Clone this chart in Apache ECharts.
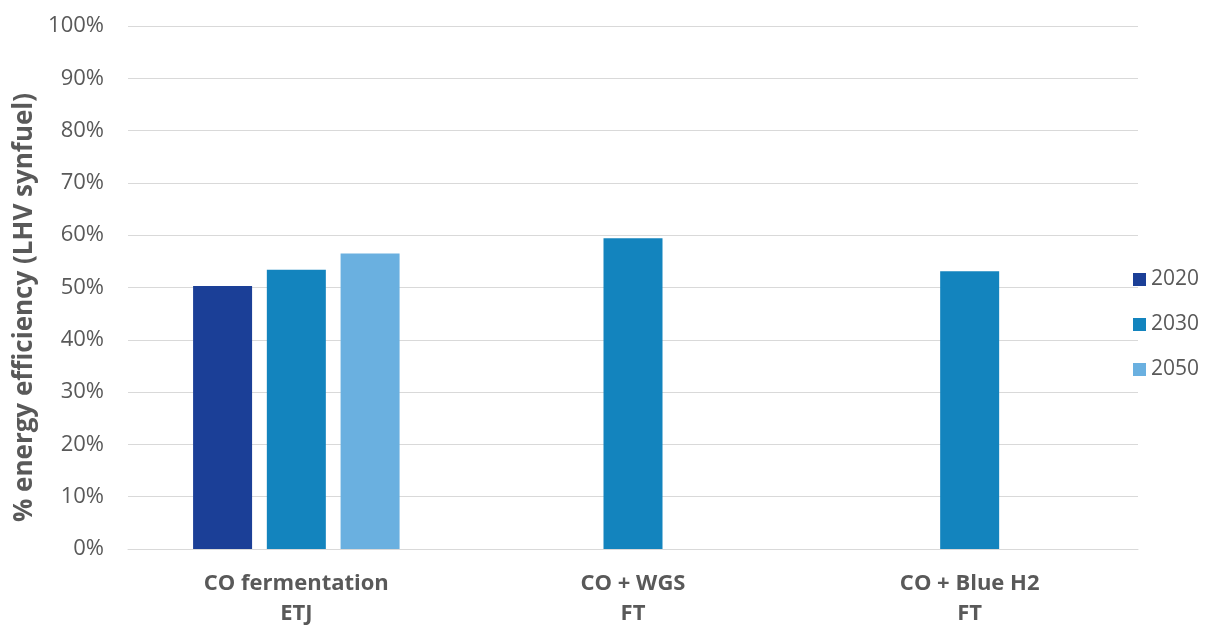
<!DOCTYPE html>
<html>
<head>
<meta charset="utf-8">
<script src="https://cdn.jsdelivr.net/npm/echarts@6/dist/echarts.min.js"></script>
<style>html,body{margin:0;padding:0;background:#fff}#c{width:1205px;height:625px}</style>
</head>
<body>
<div id="c"></div>
<script>
const categories = ['CO fermentation\nETJ', 'CO + WGS\nFT', 'CO + Blue H2\nFT'];
const seriesNames = ['2020', '2030', '2050'];
const values2020 = [50.3, null, null];
const values2030 = [53.4, 59.4, 53.1];
const values2050 = [56.5, null, null];
const yTicks = [0, 10, 20, 30, 40, 50, 60, 70, 80, 90, 100];
const colors = ['#1B3F97', '#1384BE', '#6AB0E0'];
const yTitle = '% energy efficiency (LHV synfuel)';

const chart = echarts.init(document.getElementById('c'), null, {renderer: 'canvas'});
const textColor = '#595959';
const font = 'Open Sans';
const data = [values2020, values2030, values2050];
chart.setOption({
  animation: false,
  backgroundColor: '#fff',
  grid: {left: 128, right: 67, top: 26, bottom: 76, containLabel: false, outerBoundsMode: 'none'},
  legend: {
    orient: 'vertical', left: 1128, top: 264, itemWidth: 13, itemHeight: 13, itemGap: 24,
    icon: 'rect',
    textStyle: {color: textColor, fontSize: 21, fontFamily: font},
    data: seriesNames
  },
  xAxis: {
    type: 'category', data: categories,
    axisLine: {lineStyle: {color: '#d9d9d9', width: 1}},
    axisTick: {show: false},
    axisLabel: {color: textColor, fontSize: 22, fontWeight: 'bold', fontFamily: font, lineHeight: 30, margin: 20}
  },
  yAxis: {
    type: 'value', min: yTicks[0], max: yTicks[yTicks.length - 1], interval: 10,
    name: yTitle, nameLocation: 'middle', nameGap: 88, nameRotate: 90,
    nameTextStyle: {color: textColor, fontSize: 26, fontWeight: 'bold', fontFamily: font, padding: [0, 40, 0, 0]},
    axisLine: {show: false}, axisTick: {show: false},
    splitLine: {lineStyle: {color: '#d9d9d9', width: 1}},
    axisLabel: {color: textColor, fontSize: 22, fontFamily: font, margin: 24, formatter: v => v + '%'}
  },
  series: seriesNames.map((n, i) => ({
    name: n, type: 'bar', data: data[i],
    barWidth: 59, barGap: '25%', barCategoryGap: '38.5%',
    itemStyle: {color: colors[i]}
  }))
});
</script>
</body>
</html>
